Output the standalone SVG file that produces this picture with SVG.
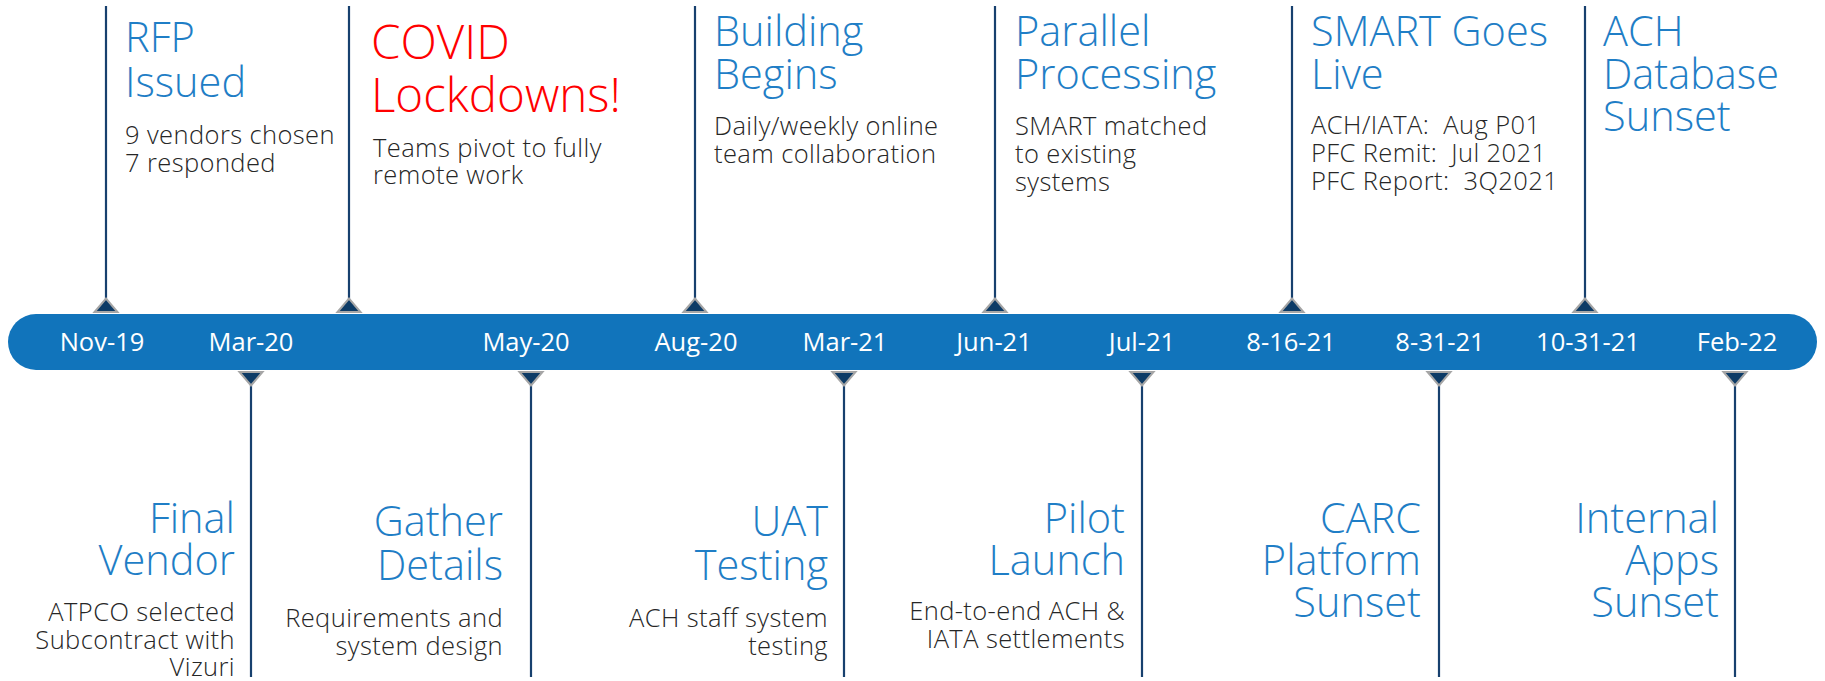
<svg xmlns="http://www.w3.org/2000/svg" xmlns:xlink="http://www.w3.org/1999/xlink" width="1825" height="681" viewBox="0 0 1825 681">
<style>
.title{font-family:"Open Sans","Liberation Sans",sans-serif;font-weight:300;font-size:41.5px;fill:#1F7EC6}
.covid{font-family:"Open Sans","Liberation Sans",sans-serif;font-weight:300;font-size:47.5px;fill:#FF0000}
.body{font-family:"Open Sans","Liberation Sans",sans-serif;font-weight:300;font-size:25.5px;letter-spacing:0.4px;fill:#262626;white-space:pre}
.date{font-family:"Open Sans","Liberation Sans",sans-serif;font-size:25.5px;fill:#FFFFFF;text-anchor:middle}
.end{text-anchor:end}
.stem{stroke:#17406E;stroke-width:2.2;fill:none}
.tri{fill:#0D3B66;stroke:#A6A6A6;stroke-width:2;stroke-linejoin:miter}
</style>
<defs>
<path id="triUp" class="tri" d="M-11.5,0 L11.5,0 L0,-13.5 Z"/>
<path id="triDown" class="tri" d="M-11.5,0 L11.5,0 L0,13.5 Z"/>
</defs>
<rect width="1825" height="681" fill="#FFFFFF"/>
<g id="connectors">
<line class="stem" x1="106" y1="6" x2="106" y2="300"/>
<line class="stem" x1="349" y1="6" x2="349" y2="300"/>
<line class="stem" x1="695" y1="6" x2="695" y2="300"/>
<line class="stem" x1="995" y1="6" x2="995" y2="300"/>
<line class="stem" x1="1292" y1="6" x2="1292" y2="300"/>
<line class="stem" x1="1585" y1="6" x2="1585" y2="300"/>
<line class="stem" x1="251" y1="382" x2="251" y2="677"/>
<line class="stem" x1="531" y1="382" x2="531" y2="677"/>
<line class="stem" x1="844" y1="382" x2="844" y2="677"/>
<line class="stem" x1="1142" y1="382" x2="1142" y2="677"/>
<line class="stem" x1="1439" y1="382" x2="1439" y2="677"/>
<line class="stem" x1="1735" y1="382" x2="1735" y2="677"/>
</g>
<g id="timeline">
<rect x="8" y="314" width="1809" height="56" rx="28" ry="28" fill="#1174BB"/>
<text class="date" x="102" y="351">Nov-19</text>
<text class="date" x="251" y="351">Mar-20</text>
<text class="date" x="526" y="351">May-20</text>
<text class="date" x="696" y="351">Aug-20</text>
<text class="date" x="845" y="351">Mar-21</text>
<text class="date" x="994" y="351">Jun-21</text>
<text class="date" x="1142" y="351">Jul-21</text>
<text class="date" x="1291" y="351">8-16-21</text>
<text class="date" x="1440" y="351">8-31-21</text>
<text class="date" x="1588" y="351">10-31-21</text>
<text class="date" x="1737" y="351">Feb-22</text>
</g>
<g id="markers">
<use xlink:href="#triUp" x="106" y="312"/>
<use xlink:href="#triUp" x="349" y="312"/>
<use xlink:href="#triUp" x="695" y="312"/>
<use xlink:href="#triUp" x="995" y="312"/>
<use xlink:href="#triUp" x="1292" y="312"/>
<use xlink:href="#triUp" x="1585" y="312"/>
<use xlink:href="#triDown" x="251" y="372"/>
<use xlink:href="#triDown" x="531" y="372"/>
<use xlink:href="#triDown" x="844" y="372"/>
<use xlink:href="#triDown" x="1142" y="372"/>
<use xlink:href="#triDown" x="1439" y="372"/>
<use xlink:href="#triDown" x="1735" y="372"/>
</g>
<g id="node-rfp">
<text class="title" x="125" y="52">RFP</text>
<text class="title" x="125" y="97">Issued</text>
<text class="body" x="125" y="144">9 vendors chosen</text>
<text class="body" x="125" y="172">7 responded</text>
</g>
<g id="node-covid">
<text class="covid" x="371" y="59">COVID</text>
<text class="covid" x="371" y="112">Lockdowns!</text>
<text class="body" x="373" y="157">Teams pivot to fully</text>
<text class="body" x="373" y="184">remote work</text>
</g>
<g id="node-building">
<text class="title" x="714" y="46">Building</text>
<text class="title" x="714" y="89">Begins</text>
<text class="body" x="714" y="135">Daily/weekly online</text>
<text class="body" x="714" y="163">team collaboration</text>
</g>
<g id="node-parallel">
<text class="title" x="1015" y="46">Parallel</text>
<text class="title" x="1015" y="89">Processing</text>
<text class="body" x="1015" y="135">SMART matched</text>
<text class="body" x="1015" y="163">to existing</text>
<text class="body" x="1015" y="191">systems</text>
</g>
<g id="node-smart">
<text class="title" x="1311" y="46">SMART Goes</text>
<text class="title" x="1311" y="89">Live</text>
<text class="body" x="1311" y="134">ACH/IATA:  Aug P01</text>
<text class="body" x="1311" y="162">PFC Remit:  Jul 2021</text>
<text class="body" x="1311" y="190">PFC Report:  3Q2021</text>
</g>
<g id="node-achdb">
<text class="title" x="1603" y="46">ACH</text>
<text class="title" x="1603" y="89">Database</text>
<text class="title" x="1603" y="131">Sunset</text>
</g>
<g id="node-final">
<text class="title end" x="235" y="533">Final</text>
<text class="title end" x="235" y="575">Vendor</text>
<text class="body end" x="235" y="621">ATPCO selected</text>
<text class="body end" x="235" y="649">Subcontract with</text>
<text class="body end" x="235" y="676">Vizuri</text>
</g>
<g id="node-gather">
<text class="title end" x="503" y="536">Gather</text>
<text class="title end" x="503" y="580">Details</text>
<text class="body end" x="503" y="627">Requirements and</text>
<text class="body end" x="503" y="655">system design</text>
</g>
<g id="node-uat">
<text class="title end" x="828" y="536">UAT</text>
<text class="title end" x="828" y="580">Testing</text>
<text class="body end" x="828" y="627">ACH staff system</text>
<text class="body end" x="828" y="655">testing</text>
</g>
<g id="node-pilot">
<text class="title end" x="1125" y="533">Pilot</text>
<text class="title end" x="1125" y="575">Launch</text>
<text class="body end" x="1125" y="620">End-to-end ACH &amp;</text>
<text class="body end" x="1125" y="648">IATA settlements</text>
</g>
<g id="node-carc">
<text class="title end" x="1421" y="533">CARC</text>
<text class="title end" x="1421" y="575">Platform</text>
<text class="title end" x="1421" y="617">Sunset</text>
</g>
<g id="node-internal">
<text class="title end" x="1719" y="533">Internal</text>
<text class="title end" x="1719" y="575">Apps</text>
<text class="title end" x="1719" y="617">Sunset</text>
</g>
</svg>
